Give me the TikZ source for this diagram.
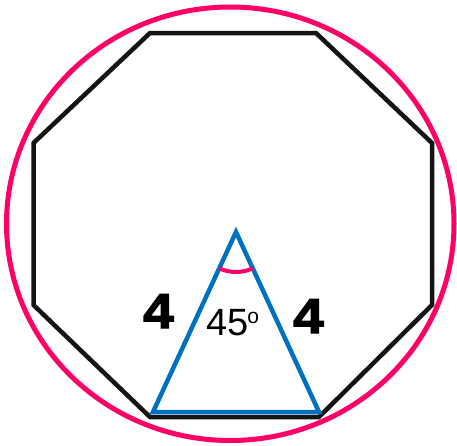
\documentclass[tikz,border=0pt]{standalone}
\usepackage{fontspec}
\setmainfont{Liberation Sans}
\newfontfamily\heavyfont[FakeBold=2.5]{Liberation Sans Bold}
\definecolor{ringpink}{HTML}{FF0066}
\definecolor{triblue}{HTML}{0070C0}
\tikzset{
  ring/.style={draw=ringpink, line width=5pt},
  octa/.style={draw=black!92, line width=4.5pt, line join=miter},
  tri/.style={draw=triblue, line width=4.5pt, line join=miter},
  anglearc/.style={draw=ringpink, line width=4pt},
  biglabel/.style={inner sep=0pt, anchor=base west, font=\fontsize{49}{49}\heavyfont},
  anglelabel/.style={inner sep=0pt, anchor=base west, font=\fontsize{38}{38}\selectfont},
}
\begin{document}
\begin{tikzpicture}[x=1pt, y=-1pt]
\useasboundingbox (0,0) rectangle (457,445);
% circle
\draw[ring] (230.25,223.75) ellipse [x radius=223.75, y radius=216.75];
% octagon
\coordinate (o1) at (150,33);
\coordinate (o2) at (316,33);
\coordinate (o3) at (432,143);
\coordinate (o4) at (432,305);
\coordinate (o5) at (319,417);
\coordinate (o6) at (150,417);
\coordinate (o7) at (33.5,305);
\coordinate (o8) at (33.5,143);
\draw[octa] (o1) -- (o2) -- (o3) -- (o4) -- (o5) -- (o6) -- (o7) -- (o8) -- cycle;
% triangle
\coordinate (A) at (236,232);
\coordinate (B) at (153,412);
\coordinate (C) at (319,412);
\draw[tri] (A) -- (B) -- (C) -- cycle;
% angle arc
\draw[anglearc] (A) ++(65.4:40) arc[start angle=65.4, end angle=114.9, radius=40];
% labels
\node[biglabel] (l1) at (143,328) {\scalebox{1.12}[1]{4}};
\node[biglabel] (l2) at (293,333) {\scalebox{1.12}[1]{4}};
\node[anglelabel] (l3) at (206,335) {45\kern-1pt\raisebox{12pt}{\fontsize{21}{21}\selectfont o}};
\end{tikzpicture}
\end{document}
